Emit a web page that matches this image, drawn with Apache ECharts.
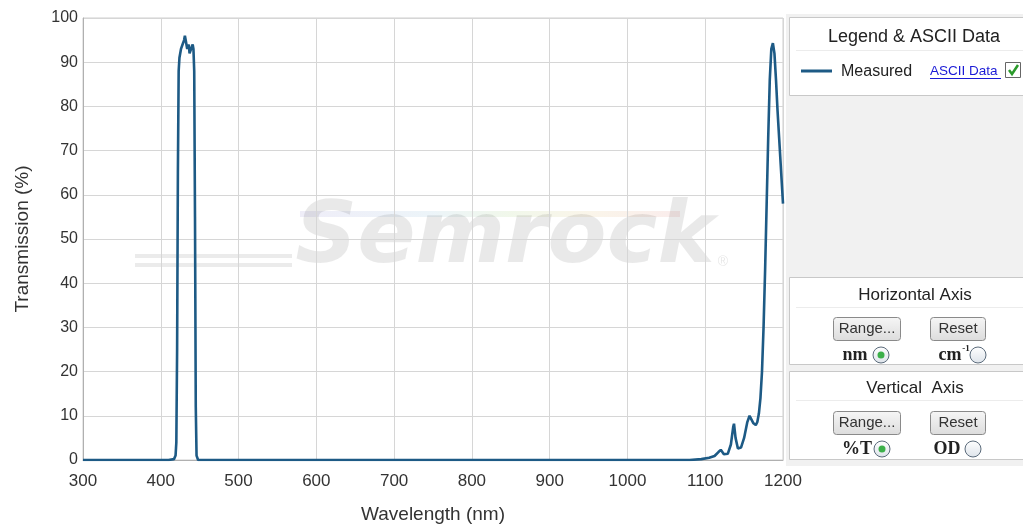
<!DOCTYPE html>
<html>
<head>
<meta charset="utf-8">
<script src="https://cdn.jsdelivr.net/npm/echarts@6/dist/echarts.min.js"></script>
<style>
  html, body { margin: 0; padding: 0; background: #fff; }
  #chart { width: 1023px; height: 529px; }
</style>
</head>
<body>
<div id="chart"></div>
<script>
// wavelength (nm) and transmission (%)
var wavelength = [300, 410, 417, 419, 420, 421, 422, 423, 424, 426, 428, 430, 431, 432, 434, 436, 437, 439, 441, 442, 443, 444, 445, 446, 448,
  1080, 1095, 1105, 1112, 1117, 1120, 1124, 1129, 1133, 1136, 1137, 1139, 1142, 1146, 1150, 1154, 1157, 1159, 1162, 1165, 1167, 1169,
  1171, 1173, 1175, 1177, 1179, 1181, 1183, 1185, 1187, 1189, 1191, 1193, 1195, 1197, 1199, 1200];
var transmission = [0, 0, 0.2, 1, 4, 25, 65, 88, 91, 93, 94, 95, 96, 95, 93, 94, 92, 93, 94, 93, 88, 55, 12, 1, 0,
  0, 0.2, 0.5, 0.9, 1.8, 2.3, 1.3, 1.4, 3.5, 7.5, 8.2, 5, 2.6, 2.8, 5, 8.5, 10, 9.8, 8.3, 7.9, 8.6, 10.5,
  14, 20, 30, 43, 58, 73, 86, 93, 94.3, 92, 86, 79, 73, 67, 61, 58];
var xTicks = [300, 400, 500, 600, 700, 800, 900, 1000, 1100, 1200];
var yTicks = [0, 10, 20, 30, 40, 50, 60, 70, 80, 90, 100];

var lineColor = "#1d5a85";
var data = wavelength.map(function (w, i) { return [w, transmission[i]]; });

function button(x, y, w, label) {
  return {
    type: "group", left: x, top: y,
    children: [
      { type: "rect", shape: { x: 0, y: 0, width: w, height: 23, r: 3 },
        style: { fill: new echarts.graphic.LinearGradient(0, 0, 0, 1, [{ offset: 0, color: "#f6f6f6" }, { offset: 1, color: "#dcdcdc" }]), stroke: "#8a8a8a", lineWidth: 1 } },
      { type: "text", style: { x: w / 2, y: 11.5, text: label, align: "center", verticalAlign: "middle", font: "15px 'Liberation Sans', Arial", fill: "#333" } }
    ]
  };
}
function radio(cx, cy, on) {
  var kids = [{ type: "circle", shape: { cx: 0, cy: 0, r: 8 },
    style: { fill: new echarts.graphic.LinearGradient(0, 0, 0, 1, [{ offset: 0, color: "#ffffff" }, { offset: 1, color: "#dde3ea" }]), stroke: "#5b6b7b", lineWidth: 1 } }];
  if (on) kids.push({ type: "circle", shape: { cx: 0, cy: 0, r: 3.5 }, style: { fill: "#3cb04a" } });
  return { type: "group", x: cx, y: cy, children: kids };
}
function panelText(x, y, text, font, align) {
  return { type: "text", x: x, y: y, style: { text: text, font: font, fill: "#222", align: align || "center", verticalAlign: "middle" } };
}

var chart = echarts.init(document.getElementById("chart"));
chart.setOption({
  animation: false,
  grid: { left: 83, right: 240, top: 18, bottom: 69, show: true, borderColor: "#cfcfcf", borderWidth: 1 },
  xAxis: {
    type: "value", min: 300, max: 1200, interval: 100,
    name: "Wavelength (nm)", nameLocation: "middle", nameGap: 45,
    nameTextStyle: { fontSize: 19, color: "#333", fontFamily: "Liberation Sans" },
    axisLine: { lineStyle: { color: "#b0b0b0" } },
    axisTick: { show: false },
    axisLabel: { fontSize: 17, color: "#333", margin: 13, fontFamily: "Liberation Sans",
      customValues: xTicks, formatter: function (v) { return String(v); } },
    splitLine: { lineStyle: { color: "#d6d6d6" } }
  },
  yAxis: {
    type: "value", min: 0, max: 100, interval: 10,
    name: "Transmission (%)", nameLocation: "middle", nameGap: 51,
    nameTextStyle: { fontSize: 19, color: "#333", fontFamily: "Liberation Sans" },
    axisLine: { show: true, lineStyle: { color: "#b0b0b0" } },
    axisTick: { show: false },
    axisLabel: { fontSize: 16, color: "#333", margin: 5, fontFamily: "Liberation Sans",
      customValues: yTicks },
    splitLine: { lineStyle: { color: "#d6d6d6" } }
  },
  series: [{
    name: "Measured", type: "line", data: data, showSymbol: false, z: 5,
    lineStyle: { color: lineColor, width: 2.6 }
  }],
  graphic: [
    // watermark, translucent so the grid shows through
    { type: "line", shape: { x1: 135, y1: 256, x2: 292, y2: 256 }, style: { stroke: "rgba(0,0,0,0.08)", lineWidth: 4 } },
    { type: "line", shape: { x1: 135, y1: 265, x2: 292, y2: 265 }, style: { stroke: "rgba(0,0,0,0.08)", lineWidth: 4 } },
    { type: "line", shape: { x1: 300, y1: 214, x2: 680, y2: 214 },
      style: { opacity: 0.45, stroke: new echarts.graphic.LinearGradient(0, 0, 1, 0, [
        { offset: 0, color: "#dcd8f0" }, { offset: 0.35, color: "#d6e8f2" }, { offset: 0.55, color: "#e0efd2" },
        { offset: 0.75, color: "#f5ead0" }, { offset: 1, color: "#f5d6d6" }]), lineWidth: 6 } },
    { type: "text", x: 505, y: 240, style: { text: "Semrock", font: "italic bold 86px 'DejaVu Sans', sans-serif", fill: "rgba(0,0,0,0.085)", align: "center", verticalAlign: "middle" } },
    { type: "text", x: 723, y: 262, style: { text: "®", font: "14px 'Liberation Sans'", fill: "rgba(0,0,0,0.1)", align: "center", verticalAlign: "middle" } },
    // right column
    { type: "rect", shape: { x: 786, y: 14, width: 237, height: 452 }, style: { fill: "#f1f1f1" } },
    { type: "rect", shape: { x: 789.5, y: 17.5, width: 240, height: 78 }, style: { fill: "#fff", stroke: "#c8c8c8" } },
    panelText(914, 37, "Legend & ASCII Data", "18px 'Liberation Sans', Arial"),
    { type: "line", shape: { x1: 796, y1: 50.5, x2: 1023, y2: 50.5 }, style: { stroke: "#ececec", lineWidth: 1 } },
    { type: "line", shape: { x1: 801, y1: 71, x2: 832, y2: 71 }, style: { stroke: lineColor, lineWidth: 3 } },
    panelText(841, 72, "Measured", "16px 'Liberation Sans', Arial", "left"),
    { type: "text", x: 930, y: 71, style: { text: "ASCII Data", font: "13.5px 'Liberation Sans', Arial", fill: "#1a1ad6", align: "left", verticalAlign: "middle" } },
    { type: "line", shape: { x1: 930, y1: 78.5, x2: 1001, y2: 78.5 }, style: { stroke: "#1a1ad6", lineWidth: 1 } },
    { type: "rect", shape: { x: 1005.5, y: 62.5, width: 15, height: 15 }, style: { fill: "#fff", stroke: "#666" } },
    { type: "polyline", shape: { points: [[1009, 70], [1012, 74], [1018, 65]] }, style: { stroke: "#2a9a2a", lineWidth: 2.5, fill: null } },

    { type: "rect", shape: { x: 789.5, y: 277.5, width: 240, height: 87 }, style: { fill: "#fff", stroke: "#c8c8c8" } },
    panelText(915, 295, "Horizontal Axis", "17px 'Liberation Sans', Arial"),
    { type: "line", shape: { x1: 796, y1: 307.5, x2: 1023, y2: 307.5 }, style: { stroke: "#ececec", lineWidth: 1 } },
    button(833, 317, 67, "Range..."),
    button(930, 317, 55, "Reset"),
    panelText(855, 355, "nm", "bold 18px 'Liberation Serif', serif"),
    radio(881, 355, true),
    panelText(950, 355, "cm", "bold 18px 'Liberation Serif', serif"),
    panelText(966, 349, "-1", "bold 9px 'Liberation Serif', serif"),
    radio(978, 355, false),

    { type: "rect", shape: { x: 789.5, y: 371.5, width: 240, height: 88 }, style: { fill: "#fff", stroke: "#c8c8c8" } },
    panelText(915, 388, "Vertical  Axis", "17px 'Liberation Sans', Arial"),
    { type: "line", shape: { x1: 796, y1: 400.5, x2: 1023, y2: 400.5 }, style: { stroke: "#ececec", lineWidth: 1 } },
    button(833, 411, 67, "Range..."),
    button(930, 411, 55, "Reset"),
    panelText(857, 449, "%T", "bold 18px 'Liberation Serif', serif"),
    radio(882, 449, true),
    panelText(947, 449, "OD", "bold 18px 'Liberation Serif', serif"),
    radio(973, 449, false)
  ]
});
</script>
</body>
</html>
